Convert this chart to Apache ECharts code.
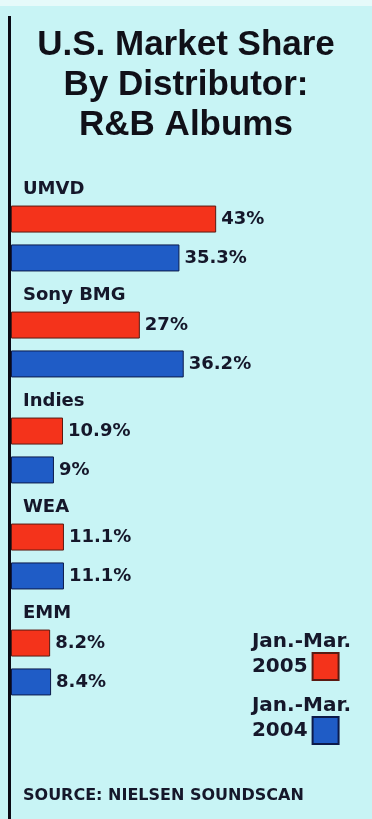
<!DOCTYPE html>
<html>
<head>
<meta charset="utf-8">
<script src="https://cdn.jsdelivr.net/npm/echarts@6/dist/echarts.min.js"></script>
<style>
html,body{margin:0;padding:0;background:#c8f4f5;}
#c{width:372px;height:819px;}
</style>
</head>
<body>
<div id="c"></div>
<script>
const categories = ['UMVD', 'Sony BMG', 'Indies', 'WEA', 'EMM'];
const period = 'Jan.-Mar.';
const years = ['2005', '2004'];
const values2005 = [43, 27, 10.9, 11.1, 8.2];
const values2004 = [35.3, 36.2, 9, 11.1, 8.4];
const titleText = 'U.S. Market Share\nBy Distributor:\nR&B Albums';
const sourceText = 'SOURCE: NIELSEN SOUNDSCAN';

const chart = echarts.init(document.getElementById('c'), null, {renderer: 'canvas'});
const ink = '#15172a';
const red = '#f4331b';
const blue = '#1f5cc6';

function legendFmt(name) {
  const parts = name.split(' ');
  return '{a|' + parts[0] + '}\n{b|' + parts[1] + '}';
}
const legendText = {
  color: ink,
  fontFamily: 'DejaVu Sans',
  fontWeight: 'bold',
  fontSize: 20,
  lineHeight: 25,
  padding: [0, 0, 25, 0],
  rich: {
    a: {width: 55, align: 'left', fontFamily: 'DejaVu Sans', fontWeight: 'bold', fontSize: 20, lineHeight: 25, color: ink},
    b: {fontFamily: 'DejaVu Sans', fontWeight: 'bold', fontSize: 20, lineHeight: 25, color: ink}
  }
};

const option = {
  backgroundColor: '#c8f4f5',
  animation: false,
  title: [
    {
      text: titleText,
      left: 'center',
      top: 25,
      padding: [0, 0, 0, 10],
      textStyle: {fontFamily: 'Liberation Sans', fontWeight: 'bold', fontSize: 35, lineHeight: 40, color: '#101018'}
    },
    {
      text: sourceText,
      left: 23,
      top: 786,
      padding: 0,
      textStyle: {fontFamily: 'DejaVu Sans', fontWeight: 'bold', fontSize: 16, lineHeight: 20, color: ink}
    }
  ],
  legend: [
    {
      data: [period + ' ' + years[0]],
      orient: 'vertical',
      align: 'right',
      icon: 'rect',
      right: 21,
      top: 629,
      padding: 0,
      itemWidth: 26,
      itemHeight: 27,
      formatter: legendFmt,
      textStyle: legendText,
      selectedMode: false
    },
    {
      data: [period + ' ' + years[1]],
      orient: 'vertical',
      align: 'right',
      icon: 'rect',
      right: 21,
      top: 693,
      padding: 0,
      itemWidth: 26,
      itemHeight: 27,
      formatter: legendFmt,
      textStyle: legendText,
      selectedMode: false
    }
  ],
  grid: {left: 11, right: 27, top: 185.5, height: 530, containLabel: false},
  xAxis: {type: 'value', min: 0, max: 70, show: false},
  yAxis: {
    type: 'category',
    data: categories,
    inverse: true,
    axisLine: {show: false},
    axisTick: {show: false},
    splitLine: {show: false},
    axisLabel: {
      inside: true,
      margin: 12,
      align: 'left',
      verticalAlign: 'bottom',
      lineHeight: 98,
      color: ink,
      fontFamily: 'DejaVu Sans',
      fontWeight: 'bold',
      fontSize: 18
    },
    z: 5
  },
  series: [
    {
      name: period + ' ' + years[0],
      type: 'bar',
      data: values2005,
      barWidth: 27,
      barGap: '44%',
      itemStyle: {color: red, borderColor: '#5a1a12', borderWidth: 1},
      label: {
        show: true, position: 'right', distance: 5,
        formatter: p => p.value + '%',
        color: ink, fontFamily: 'DejaVu Sans', fontWeight: 'bold', fontSize: 18
      }
    },
    {
      name: period + ' ' + years[1],
      type: 'bar',
      data: values2004,
      barWidth: 27,
      barGap: '44%',
      itemStyle: {color: blue, borderColor: '#0c1a4a', borderWidth: 1},
      label: {
        show: true, position: 'right', distance: 5,
        formatter: p => p.value + '%',
        color: ink, fontFamily: 'DejaVu Sans', fontWeight: 'bold', fontSize: 18
      }
    }
  ],
  graphic: [
    {type: 'rect', left: 0, top: 0, shape: {width: 372, height: 6}, style: {fill: '#e6fafa'}, silent: true},
    {type: 'rect', left: 8, top: 16, shape: {width: 3, height: 803}, style: {fill: '#0a0a14'}, silent: true, z: 10}
  ]
};
chart.setOption(option);
</script>
</body>
</html>
